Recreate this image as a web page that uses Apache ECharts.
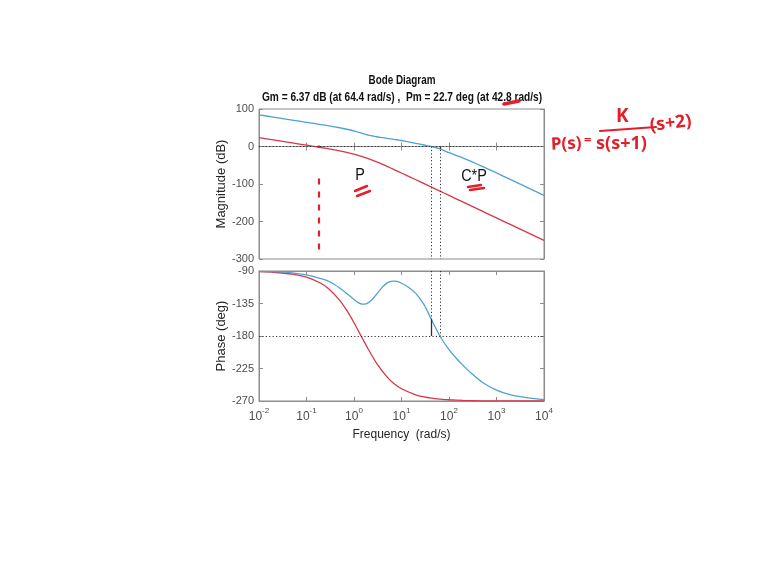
<!DOCTYPE html>
<html>
<head>
<meta charset="utf-8">
<script src="https://cdn.jsdelivr.net/npm/echarts@6/dist/echarts.min.js"></script>
<style>
  html, body { margin: 0; padding: 0; background: #fff; }
  #chart { width: 765px; height: 576px; }
</style>
</head>
<body>
<div id="chart"></div>
<script>
// P : frequencies (rad/s), magnitude (dB), phase (deg)
const freqP = [0.01, 0.02, 0.05, 0.1, 0.2, 0.3, 0.5, 0.7, 1, 1.5, 2, 3, 5, 7, 10, 20, 30, 42.8, 64.4, 100, 200, 500, 1000, 2000, 5000, 10000];
const magP = [23.5, 17.5, 9.5, 3.4, -2.7, -6.5, -11.7, -15.6, -20.5, -27.1, -32.5, -41.1, -53.2, -61.6, -70.7, -88.6, -99.1, -108.4, -119.0, -130.5, -148.5, -172.4, -190.5, -208.5, -232.4, -250.5];
const phaseP = [-90.9, -91.7, -94.3, -98.6, -107.0, -115.2, -130.6, -144.3, -161.6, -183.2, -198.4, -217.9, -236.9, -246.0, -253.0, -261.4, -264.3, -266.0, -267.3, -268.3, -269.1, -269.7, -269.8, -269.9, -270, -270];

// C*P : frequencies (rad/s), magnitude (dB), phase (deg)
const freqCP = [0.01, 0.02, 0.05, 0.1, 0.2, 0.3, 0.5, 0.7, 1, 1.2, 1.5, 1.8, 2, 2.5, 3, 4, 5, 6, 7, 8, 10, 14, 20, 30, 42.8, 64.4, 100, 150, 200, 300, 500, 1000, 2000, 5000, 10000];
const magCP = [84.5, 78.5, 70.5, 64.5, 58.5, 55, 50, 46, 41.5, 38.5, 35, 32, 30.5, 28, 26, 23.8, 21.9, 20.4, 19.1, 18, 16, 12.5, 8.5, 4, 0, -6.4, -16.5, -25, -31, -40.5, -53, -70.5, -88.5, -112.5, -130.5];
const phaseCP = [-90.5, -91, -92.5, -95.5, -100.5, -104.5, -113.5, -121, -129.5, -133.5, -136, -135.5, -134, -128.5, -122, -112, -106.5, -104.5, -104, -104.5, -107, -112.5, -121, -137, -157.3, -180, -199, -212.5, -221, -232, -244, -255, -261.5, -266, -268];

// margins
const gmFreq = 64.4, gmDb = 6.37;
const pmFreq = 42.8, pmDeg = 22.7;

// tick settings
const magTicks = { min: -300, max: 100, interval: 100 };
const phaseTicks = { min: -270, max: -90, interval: 45 };

const FONT = "'Liberation Sans', Arial, sans-serif";
const BLUE = '#4fa2d0';
const RED = '#d7374b';
const INK = '#e0202a';
const AX = '#8c8c8c';

const pairs = (xs, ys) => xs.map((f, i) => [f, ys[i]]);

const chart = echarts.init(document.getElementById('chart'));

const xBase = {
  type: 'log', logBase: 10, min: 0.01, max: 10000, splitNumber: 6,
  axisLine: { lineStyle: { color: AX } },
  axisTick: { inside: true, length: 4, lineStyle: { color: AX } },
  splitLine: { show: false }
};
const yBase = {
  type: 'value',
  nameLocation: 'middle',
  nameTextStyle: { fontFamily: FONT, fontSize: 13, color: '#262626' },
  axisLine: { show: true, lineStyle: { color: AX } },
  axisTick: { show: true, inside: true, length: 4, lineStyle: { color: AX } },
  axisLabel: { fontFamily: FONT, fontSize: 11, color: '#4d4d4d', margin: 5 },
  splitLine: { show: false }
};
// mirrored tick axes on the top / right edge of each box
const xMirror = (g) => Object.assign({}, xBase, { gridIndex: g, position: 'top', axisLabel: { show: false } });
const yMirror = (g, t) => Object.assign({}, yBase, { gridIndex: g, position: 'right', axisLabel: { show: false } }, t);

const dotted = { type: [1.2, 2.2], color: '#333', width: 1 };
const solidMark = { type: 'solid', color: '#333', width: 1.3 };

// text helper: condensed (horizontally squeezed) text like the original figure
const squeezed = (text, x, y, font, sx) => ({
  type: 'text', x: x, y: y, scaleX: sx, silent: true,
  style: { text: text, font: font, fill: '#111', align: 'center', verticalAlign: 'middle' }
});
const stroke = (x1, y1, x2, y2, w) => ({
  type: 'line', silent: true, shape: { x1: x1, y1: y1, x2: x2, y2: y2 },
  style: { stroke: INK, lineWidth: w, lineCap: 'round' }
});
const ink = (text, x, y, size, rot) => ({
  type: 'text', x: x, y: y, rotation: rot || 0, silent: true,
  style: { text: text, font: 'bold ' + size + "px 'Noto Sans', sans-serif", fill: INK, align: 'left', verticalAlign: 'middle' }
});

const option = {
  backgroundColor: '#fff',
  animation: false,
  grid: [
    { left: 259, right: 221, top: 109, height: 150, show: true, borderColor: AX, borderWidth: 1 },
    { left: 259, right: 221, top: 271, height: 130, show: true, borderColor: AX, borderWidth: 1 }
  ],
  xAxis: [
    Object.assign({}, xBase, { gridIndex: 0, axisLabel: { show: false } }),
    Object.assign({}, xBase, {
      gridIndex: 1,
      name: 'Frequency  (rad/s)', nameLocation: 'middle', nameGap: 28,
      nameTextStyle: { fontFamily: FONT, fontSize: 12, color: '#262626' },
      axisLabel: {
        margin: 6,
        formatter: (v) => '{b|10}{s|' + Math.round(Math.log10(v)) + '}',
        rich: {
          b: { fontFamily: FONT, fontSize: 12, color: '#4d4d4d', lineHeight: 16, verticalAlign: 'bottom' },
          s: { fontFamily: FONT, fontSize: 8, color: '#4d4d4d', lineHeight: 16, verticalAlign: 'top' }
        }
      }
    }),
    xMirror(0),
    xMirror(1)
  ],
  yAxis: [
    Object.assign({}, yBase, { gridIndex: 0, name: 'Magnitude (dB)', nameGap: 26 }, magTicks),
    Object.assign({}, yBase, { gridIndex: 1, name: 'Phase (deg)', nameGap: 26 }, phaseTicks),
    yMirror(0, magTicks),
    yMirror(1, phaseTicks)
  ],
  series: [
    {
      name: 'P', type: 'line', xAxisIndex: 0, yAxisIndex: 0, data: pairs(freqP, magP),
      smooth: 0.2, showSymbol: false, lineStyle: { color: RED, width: 1.3 }, z: 2,
      markLine: {
        silent: true, symbol: 'none', label: { show: false },
        data: [
          [{ coord: [0.18, -85], lineStyle: { type: [6, 7], color: INK, width: 2.2 } }, { coord: [0.18, -285] }],
          [{ coord: [0.18, 3], lineStyle: { type: 'solid', color: INK, width: 2 } }, { coord: [0.18, -4] }]
        ]
      }
    },
    {
      name: 'C*P', type: 'line', xAxisIndex: 0, yAxisIndex: 0, data: pairs(freqCP, magCP),
      smooth: 0.2, showSymbol: false, lineStyle: { color: BLUE, width: 1.3 }, z: 3,
      markLine: {
        silent: true, symbol: 'none', label: { show: false }, lineStyle: dotted,
        data: [
          [{ coord: [0.01, 0] }, { coord: [10000, 0] }],
          [{ coord: [pmFreq, 0] }, { coord: [pmFreq, magTicks.min] }],
          [{ coord: [gmFreq, 0] }, { coord: [gmFreq, magTicks.min] }],
          [{ coord: [gmFreq, 0], lineStyle: solidMark }, { coord: [gmFreq, -gmDb] }]
        ]
      }
    },
    {
      name: 'P phase', type: 'line', xAxisIndex: 1, yAxisIndex: 1, data: pairs(freqP, phaseP),
      smooth: 0.2, showSymbol: false, lineStyle: { color: RED, width: 1.3 }, z: 2
    },
    {
      name: 'C*P phase', type: 'line', xAxisIndex: 1, yAxisIndex: 1, data: pairs(freqCP, phaseCP),
      smooth: 0.2, showSymbol: false, lineStyle: { color: BLUE, width: 1.3 }, z: 3,
      markLine: {
        silent: true, symbol: 'none', label: { show: false }, lineStyle: dotted,
        data: [
          [{ coord: [0.01, -180] }, { coord: [10000, -180] }],
          [{ coord: [pmFreq, phaseTicks.max] }, { coord: [pmFreq, -180] }],
          [{ coord: [gmFreq, phaseTicks.max] }, { coord: [gmFreq, -180] }],
          [{ coord: [pmFreq, -180 + pmDeg], lineStyle: solidMark }, { coord: [pmFreq, -180] }]
        ]
      }
    }
  ],
  graphic: [
    squeezed('Bode Diagram', 402, 80, "bold 13px 'Liberation Sans', Arial, sans-serif", 0.76),
    squeezed('Gm = ' + gmDb + ' dB (at ' + gmFreq + ' rad/s) ,  Pm = ' + pmDeg + ' deg (at ' + pmFreq + ' rad/s)',
      402, 97, "bold 13px 'Liberation Sans', Arial, sans-serif", 0.78),
    // curve labels
    squeezed('P', 360, 176, "16px 'Liberation Sans', Arial, sans-serif", 0.9),
    squeezed('C*P', 474, 177, "16px 'Liberation Sans', Arial, sans-serif", 0.9),
    // handwritten red marks
    stroke(355, 191, 367, 186, 2.5),
    stroke(357, 196, 370, 191, 2.5),
    stroke(468, 187, 481, 185, 2.5),
    stroke(470, 190, 484, 188, 2.5),
    stroke(504, 104, 519, 101, 3.5),
    // handwritten formula
    ink('P(s)', 551, 145, 17, 0.05),
    ink('=', 584, 140, 13),
    ink('K', 616, 117, 19),
    stroke(600, 131, 656, 127, 2.2),
    ink('s(s+1)', 596, 144, 18),
    ink('(s+2)', 650, 126, 18, 0.12)
  ]
};

chart.setOption(option);
</script>
</body>
</html>
